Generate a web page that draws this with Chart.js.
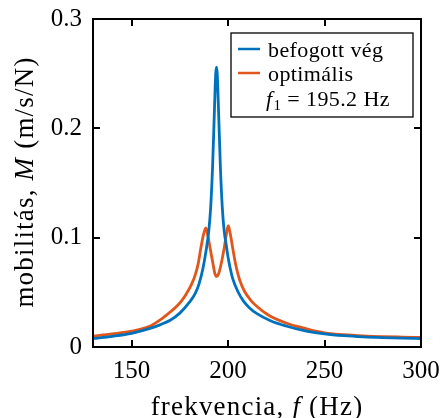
<!DOCTYPE html>
<html>
<head>
<meta charset="utf-8">
<script src="https://cdn.jsdelivr.net/npm/chart.js@4"></script>
<style>
  html, body { margin: 0; padding: 0; background: #fff; }
  canvas { display: block; }
</style>
</head>
<body>
<canvas id="chart" width="441" height="418"></canvas>
<script>
// frekvencia (Hz) / mobilitás (m/s/N)
const freqBefogott = [130, 140, 150, 160, 165, 170, 175, 180, 183, 185, 187, 188.5, 190, 191, 192, 193, 193.6, 194, 194.4, 195, 196, 197, 198, 199, 200, 201, 202.5, 205, 208, 211, 215, 222, 230, 240, 250, 260, 270, 280, 290, 300];
const mobBefogott = [0.0078, 0.0098, 0.0125, 0.0172, 0.0205, 0.0245, 0.031, 0.041, 0.049, 0.058, 0.072, 0.087, 0.106, 0.128, 0.166, 0.220, 0.250, 0.256, 0.250, 0.220, 0.166, 0.128, 0.106, 0.094, 0.082, 0.073, 0.062, 0.051, 0.042, 0.036, 0.0305, 0.024, 0.0192, 0.0148, 0.0121, 0.0104, 0.0093, 0.0086, 0.0081, 0.0077];

const freqOptimalis = [130, 140, 150, 160, 165, 170, 173, 176, 178.5, 181, 183, 184.5, 185.9, 187.3, 188.5, 189.5, 190.7, 192.3, 193.2, 194.1, 195.1, 196.3, 198, 199.2, 200.1, 201.1, 202.4, 204, 205.9, 208.5, 211.9, 215, 220.6, 230, 240, 250, 260, 270, 280, 290, 300];
const mobOptimalis = [0.0100, 0.0120, 0.0145, 0.0195, 0.025, 0.032, 0.0365, 0.0425, 0.049, 0.057, 0.066, 0.076, 0.0906, 0.103, 0.109, 0.102, 0.0906, 0.075, 0.067, 0.0646, 0.067, 0.075, 0.0906, 0.104, 0.111, 0.104, 0.0906, 0.075, 0.062, 0.051, 0.0425, 0.037, 0.0295, 0.022, 0.017, 0.0130, 0.0113, 0.0102, 0.0095, 0.0091, 0.0088];

const seriesLabels = ["befogott vég", "optimális"];
const seriesColors = ["#0072BD", "#E0561B"];
const xTicks = [150, 200, 250, 300];
const yTicks = [0, 0.1, 0.2, 0.3];
const f1Text = " = 195.2 Hz";

const xTitleParts = [["frekvencia, ", false], ["f", true], [" (Hz)", false]];
const yTitleParts = [["mobilitás, ", false], ["M", true], [" (m/s/N)", false]];

const SERIF = "'Liberation Serif', 'Times New Roman', serif";

function toPoints(xs, ys) {
  return xs.map((x, i) => ({ x: x, y: ys[i] }));
}

function fontOf(size, italic) {
  return (italic ? "italic " : "") + size + "px " + SERIF;
}

function drawParts(ctx, parts, size) {
  let total = 0;
  parts.forEach(([t, it]) => { ctx.font = fontOf(size, it); total += ctx.measureText(t).width; });
  let x = -total / 2;
  parts.forEach(([t, it]) => {
    ctx.font = fontOf(size, it);
    ctx.fillText(t, x, 0);
    x += ctx.measureText(t).width;
  });
}

const framePlugin = {
  id: "frame",
  afterDraw(chart) {
    const { ctx, chartArea: a, scales } = chart;
    ctx.save();
    ctx.strokeStyle = "#000";
    ctx.fillStyle = "#000";

    // inward ticks on all four sides
    ctx.lineWidth = 2;
    ctx.beginPath();
    xTicks.forEach((v) => {
      const px = Math.round(scales.x.getPixelForValue(v));
      ctx.moveTo(px, a.bottom); ctx.lineTo(px, a.bottom - 7);
      ctx.moveTo(px, a.top); ctx.lineTo(px, a.top + 7);
    });
    yTicks.forEach((v) => {
      const py = Math.round(scales.y.getPixelForValue(v));
      ctx.moveTo(a.left, py); ctx.lineTo(a.left + 7, py);
      ctx.moveTo(a.right, py); ctx.lineTo(a.right - 7, py);
    });
    ctx.stroke();
    ctx.strokeRect(a.left, a.top, a.right - a.left, a.bottom - a.top);

    // legend
    const lx = 231, ly = 33, lw = 182, lh = 84;
    ctx.fillStyle = "#fff";
    ctx.fillRect(lx, ly, lw, lh);
    ctx.lineWidth = 1.3;
    ctx.strokeStyle = "#000";
    ctx.strokeRect(lx, ly, lw, lh);
    ctx.textBaseline = "alphabetic";
    ctx.textAlign = "left";
    ctx.letterSpacing = "0.4px";
    chart.data.datasets.forEach((ds, i) => {
      const base = 57 + i * 24;
      ctx.strokeStyle = ds.borderColor;
      ctx.lineWidth = 2.5;
      ctx.beginPath();
      ctx.moveTo(238, base - 8); ctx.lineTo(260, base - 8);
      ctx.stroke();
      ctx.fillStyle = "#000";
      ctx.font = fontOf(22, false);
      ctx.fillText(ds.label, 268, base);
    });
    ctx.fillStyle = "#000";
    ctx.font = fontOf(22, true);
    ctx.fillText("f", 266, 106);
    let tx = 266 + ctx.measureText("f").width + 1;
    ctx.font = fontOf(15, false);
    ctx.fillText("1", tx, 110);
    tx += ctx.measureText("1").width;
    ctx.font = fontOf(22, false);
    ctx.fillText(f1Text, tx, 106);

    // axis titles
    ctx.letterSpacing = "1.2px";
    ctx.save();
    ctx.translate(257, 415);
    drawParts(ctx, xTitleParts, 27);
    ctx.restore();
    ctx.save();
    ctx.translate(33, 182);
    ctx.rotate(-Math.PI / 2);
    drawParts(ctx, yTitleParts, 27);
    ctx.restore();

    ctx.restore();
  }
};

new Chart(document.getElementById("chart"), {
  type: "line",
  data: {
    datasets: [
      {
        label: seriesLabels[0],
        data: toPoints(freqBefogott, mobBefogott),
        borderColor: seriesColors[0],
        borderWidth: 2.8,
        pointRadius: 0,
        cubicInterpolationMode: "monotone",
        fill: false,
      },
      {
        label: seriesLabels[1],
        data: toPoints(freqOptimalis, mobOptimalis),
        borderColor: seriesColors[1],
        borderWidth: 2.8,
        pointRadius: 0,
        cubicInterpolationMode: "monotone",
        fill: false,
      },
    ],
  },
  options: {
    responsive: false,
    animation: false,
    devicePixelRatio: 1,
    layout: { padding: { left: 0, top: 19, right: 20, bottom: 0 } },
    plugins: { legend: { display: false }, tooltip: { enabled: false } },
    scales: {
      x: {
        type: "linear",
        min: 130,
        max: 300,
        grid: { display: false, drawTicks: false },
        border: { display: false },
        afterBuildTicks: (s) => { s.ticks = xTicks.map((v) => ({ value: v })); },
        afterFit: (s) => { s.height = 71; s.paddingLeft = 0; s.paddingRight = 0; },
        ticks: {
          color: "#000",
          padding: 9,
          maxRotation: 0,
          font: { family: SERIF, size: 25 },
          callback: (v) => String(v),
        },
      },
      y: {
        type: "linear",
        min: 0,
        max: 0.3,
        grid: { display: false, drawTicks: false },
        border: { display: false },
        afterBuildTicks: (s) => { s.ticks = yTicks.map((v) => ({ value: v })); },
        afterFit: (s) => { s.width = 93; s.paddingTop = 0; s.paddingBottom = 0; },
        ticks: {
          color: "#000",
          padding: 11,
          font: { family: SERIF, size: 25 },
          callback: (v) => (v === 0 ? "0" : v.toFixed(1)),
        },
      },
    },
  },
  plugins: [framePlugin],
});
</script>
</body>
</html>
